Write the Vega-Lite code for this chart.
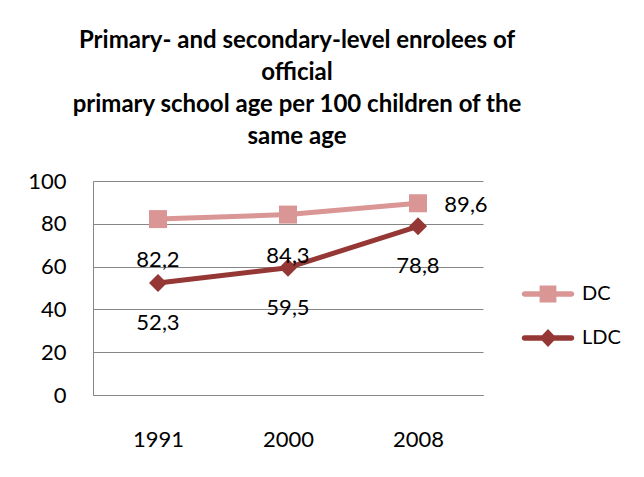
{
  "$schema": "https://vega.github.io/schema/vega-lite/v6.json",
  "autosize": {"type": "none"},
  "padding": {"left": 93, "top": 181, "right": 161, "bottom": 82},
  "width": 390,
  "height": 214,
  "background": "white",
  "config": {
    "locale": {"number": {"decimal": ",", "thousands": ".", "grouping": [3], "currency": ["", " €"]}},
    "view": {"stroke": null},
    "font": "Lato"
  },
  "title": {
    "text": ["Primary- and secondary-level enrolees of", "official", "primary school age per 100 children of the", "same age"],
    "font": "Lato",
    "fontSize": 24,
    "fontWeight": "bold",
    "color": "black",
    "lineHeight": 32,
    "anchor": "middle",
    "dx": 9,
    "offset": 21
  },
  "data": {
    "values": [
      {"year": "1991", "series": "DC", "value": 82.2},
      {"year": "2000", "series": "DC", "value": 84.3},
      {"year": "2008", "series": "DC", "value": 89.6},
      {"year": "1991", "series": "LDC", "value": 52.3},
      {"year": "2000", "series": "LDC", "value": 59.5},
      {"year": "2008", "series": "LDC", "value": 78.8}
    ]
  },
  "encoding": {
    "x": {
      "field": "year", "type": "ordinal", "title": null,
      "scale": {"type": "point", "padding": 0.5},
      "axis": {
        "labelAngle": 0, "ticks": false, "domainColor": "#868686", "domainWidth": 1,
        "labelFont": "Lato", "labelFontSize": 22, "labelColor": "black",
        "labelBaseline": "middle", "labelPadding": 44, "grid": false
      }
    },
    "y": {
      "field": "value", "type": "quantitative", "title": null,
      "scale": {"domain": [0, 100], "nice": false, "zero": true},
      "axis": {
        "values": [0, 20, 40, 60, 80, 100], "ticks": false,
        "domainColor": "#868686", "gridColor": "#868686", "grid": true, "gridWidth": 1,
        "labelFont": "Lato", "labelFontSize": 22, "labelColor": "black", "labelPadding": 27
      }
    }
  },
  "layer": [
    {
      "transform": [{"filter": "datum.series === 'DC'"}],
      "mark": {"type": "line", "strokeWidth": 5, "strokeCap": "round", "strokeJoin": "round", "color": "#D99694"}
    },
    {
      "transform": [{"filter": "datum.series === 'LDC'"}],
      "mark": {"type": "line", "strokeWidth": 5, "strokeCap": "round", "strokeJoin": "round", "color": "#953735"}
    },
    {
      "transform": [{"filter": "datum.series === 'DC'"}],
      "mark": {"type": "point", "filled": true, "opacity": 1, "size": 324, "shape": "square", "color": "#D99694"}
    },
    {
      "transform": [{"filter": "datum.series === 'LDC'"}],
      "mark": {"type": "point", "filled": true, "opacity": 1, "size": 324, "shape": "diamond", "color": "#953735"}
    },
    {
      "mark": {"type": "point", "filled": true, "opacity": 0, "size": 900},
      "encoding": {
        "color": {
          "field": "series", "type": "nominal",
          "scale": {"domain": ["DC", "LDC"], "range": ["#D99694", "#953735"]},
          "legend": {
            "title": null, "orient": "none", "legendX": 439, "legendY": 97,
            "labelFont": "Lato", "labelFontSize": 20, "labelColor": "black",
            "symbolSize": 900, "labelOffset": 18, "rowPadding": 16, "padding": 0,
            "symbolOpacity": 1
          }
        },
        "shape": {
          "field": "series", "type": "nominal",
          "scale": {"domain": ["DC", "LDC"], "range": [
            "M-1.56,-0.19H1.56A0.19,0.19 0 0 1 1.56,0.19H-1.56A0.19,0.19 0 0 1 -1.56,-0.19ZM-0.56,-0.56H0.56V0.56H-0.56Z",
            "M-1.56,-0.19H1.56A0.19,0.19 0 0 1 1.56,0.19H-1.56A0.19,0.19 0 0 1 -1.56,-0.19ZM0,-0.6L0.57,0L0,0.6L-0.57,0Z"
          ]},
          "legend": {
            "title": null, "orient": "none", "legendX": 439, "legendY": 97,
            "labelFont": "Lato", "labelFontSize": 20, "labelColor": "black",
            "symbolSize": 900, "labelOffset": 18, "rowPadding": 16, "padding": 0,
            "symbolOpacity": 1
          }
        }
      }
    },
    {
      "transform": [{"filter": "datum.series === 'DC' && datum.year !== '2008'"}],
      "mark": {"type": "text", "dy": 41, "font": "Lato", "fontSize": 22, "baseline": "middle", "color": "black"},
      "encoding": {"text": {"field": "value", "type": "quantitative", "format": ".1f"}}
    },
    {
      "transform": [{"filter": "datum.series === 'DC' && datum.year === '2008'"}],
      "mark": {"type": "text", "dx": 48, "dy": 2, "font": "Lato", "fontSize": 22, "baseline": "middle", "color": "black"},
      "encoding": {"text": {"field": "value", "type": "quantitative", "format": ".1f"}}
    },
    {
      "transform": [{"filter": "datum.series === 'LDC'"}],
      "mark": {"type": "text", "dy": 40, "font": "Lato", "fontSize": 22, "baseline": "middle", "color": "black"},
      "encoding": {"text": {"field": "value", "type": "quantitative", "format": ".1f"}}
    }
  ]
}
